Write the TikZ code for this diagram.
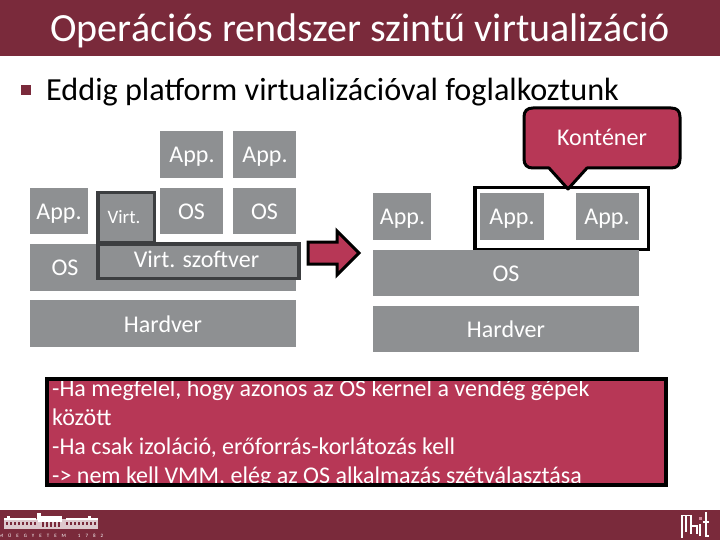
\documentclass[tikz,border=0pt]{standalone}
\usepackage{fontspec}
\setmainfont{Carlito}
\definecolor{band}{HTML}{7A2A3B}
\definecolor{crim}{HTML}{B73756}
\definecolor{gbox}{HTML}{8E9092}
\definecolor{dframe}{HTML}{3C3E40}
\tikzset{
  gb/.style={fill=gbox,draw=none,inner sep=0pt,anchor=north west},
  lbl/.style={text=white,inner sep=0pt,anchor=base,font=\fontsize{24}{26}\selectfont},
  hot/.style={fill=crim,draw=black,line width=3pt,line join=round},
}
\begin{document}
\begin{tikzpicture}[x=1pt,y=-1pt]
\useasboundingbox (0,0) rectangle (720,540);
\fill[white] (0,0) rectangle (720,540);
% bands
\fill[band] (0,0) rectangle (720,56);
\fill[band] (0,510) rectangle (720,540);
\node[text=white,font=\fontsize{40}{44}\selectfont,inner sep=0pt,anchor=base] (title) at (360,42) {Operációs rendszer szintű virtualizáció};
\fill[band] (21,85) rectangle (31,95);
\node[anchor=base west,text=black,font=\fontsize{32.2}{34}\selectfont,inner sep=0pt] (sub) at (46,101) {Eddig platform virtualizációval foglalkoztunk};
% left stack
\node[gb,minimum width=63pt,minimum height=47pt] (a1) at (160,131) {};
\node[gb,minimum width=63pt,minimum height=47pt] (a2) at (233,131) {};
\node[gb,minimum width=58pt,minimum height=46pt] (a3) at (30,188) {};
\node[gb,minimum width=63pt,minimum height=46pt] (o1) at (160,188) {};
\node[gb,minimum width=63pt,minimum height=46pt] (o2) at (233,188) {};
\node[gb,minimum width=266pt,minimum height=47pt] (o3) at (30,244) {};
\node[gb,minimum width=266pt,minimum height=47pt] (hw) at (30,300) {};
\node[fill=gbox,draw=dframe,line width=3.5pt,minimum width=56.5pt,minimum height=50pt,inner sep=0pt,anchor=north west] (virt) at (96,191) {};
\node[fill=gbox,draw=dframe,line width=3.5pt,minimum width=201pt,minimum height=34.5pt,inner sep=0pt,anchor=north west] (vs) at (96,242) {};
\node[lbl] at (192,163) {App.};
\node[lbl] at (265,163) {App.};
\node[lbl] at (59,219) {App.};
\node[lbl] at (191.5,219) {OS};
\node[lbl] at (264.5,219) {OS};
\node[lbl,font=\fontsize{19}{20}\selectfont] at (124,223) {Virt.};
\node[lbl] at (65,275) {OS};
\node[lbl] at (196.5,267) {Virt. szoftver};
\node[lbl] at (163,332) {Hardver};
% arrow
\draw[hot,line join=miter] (308,242) -- (337,242) -- (337,231) -- (359,253) -- (337,275) -- (337,264) -- (308,264) -- cycle;
% right stack
\node[gb,minimum width=58pt,minimum height=47pt] (ra1) at (373,193) {};
\node[draw=black,line width=3.5pt,minimum width=173.5pt,minimum height=61.5pt,inner sep=0pt,anchor=north west] (cont) at (473,186) {};
\node[gb,minimum width=64pt,minimum height=47pt] (ra2) at (480,193) {};
\node[gb,minimum width=63pt,minimum height=47pt] (ra3) at (576,193) {};
\node[gb,minimum width=266pt,minimum height=46pt] (ro) at (373,250) {};
\node[gb,minimum width=266pt,minimum height=46pt] (rh) at (373,306) {};
\node[lbl] at (402.5,225) {App.};
\node[lbl] at (512,225) {App.};
\node[lbl] at (607,225) {App.};
\node[lbl] at (506,281) {OS};
\node[lbl] at (506,337) {Hardver};
% callout
\draw[hot] (533,108) -- (671,108) .. controls (677,108) and (680,111) .. (680,117)
  -- (680,159) .. controls (680,165) and (677,168) .. (671,168) -- (587,168) -- (568,189) -- (549,168) -- (533,168)
  .. controls (527,168) and (524,165) .. (524,159) -- (524,117) .. controls (524,111) and (527,108) .. (533,108) -- cycle;
\node[lbl] (ct) at (602,146) {Konténer};
% note box
\node[fill=crim,minimum width=619pt,minimum height=106pt,inner sep=0pt,anchor=north west] (note) at (45,377) {};
\node[anchor=north west,text=white,align=left,inner sep=0pt,font=\fontsize{24}{28.8}\selectfont] (nt) at (52,380) {-Ha megfelel, hogy azonos az OS kernel a vendég gépek\\között\\-Ha csak izoláció, erőforrás-korlátozás kell\\-> nem kell VMM, elég az OS alkalmazás szétválasztása};
\node[draw=black,line width=3.5pt,minimum width=619pt,minimum height=106pt,inner sep=0pt,anchor=north west] (noteframe) at (45,377) {};
% footer logo: building
\fill[white,opacity=.75] (4,519) rectangle (98,529);
\fill[white] (38,516) rectangle (62,522);
\fill[white] (40,516) arc[start angle=180,end angle=360,x radius=10,y radius=-4] -- cycle;
\fill[white] (4,518) rectangle (36,520);
\fill[white] (66,518) rectangle (98,520);
\fill[white] (37,513) rectangle (41,520);
\fill[white] (88,516) rectangle (91,520);
\fill[white] (7,516) rectangle (10,520);
\foreach \i in {6,10,...,34,66,70,...,94} \fill[band] (\i,522) rectangle ++(2,3);
\foreach \i in {42,46,...,58} \fill[band] (\i,522) rectangle ++(2,5);
\node[text=white,font=\fontsize{5}{6}\selectfont,inner sep=0pt] (mu) at (51,535) {M\hspace{5pt}Ű\hspace{5pt}E\hspace{5pt}G\hspace{5pt}Y\hspace{5pt}E\hspace{5pt}T\hspace{5pt}E\hspace{5pt}M\hspace{12pt}1\hspace{5pt}7\hspace{5pt}8\hspace{5pt}2};
% footer logo: hit
\draw[white,line width=1.5pt] (682,538) -- (682,515.5) -- (691,515.5) -- (691,534);
\draw[white,line width=1.5pt] (686,516) -- (686,532);
\draw[white,line width=1.5pt] (691,526) -- (697,526) -- (697,534);
\draw[white,line width=1.5pt] (700,524) -- (700,536);
\draw[white,line width=1.5pt] (706,512) -- (706,536) -- (709,536);
\draw[white,line width=1.5pt] (703,522) -- (709,522);
\fill[crim!60!white] (698.5,517) rectangle (701.5,520);
\end{tikzpicture}
\end{document}
